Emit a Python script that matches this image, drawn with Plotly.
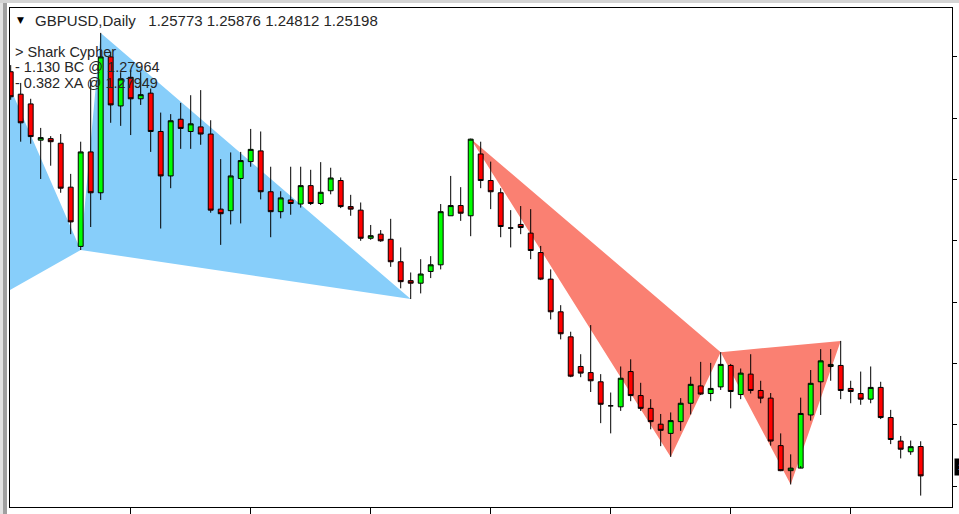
import plotly.graph_objects as go

# ---------------- data ----------------
opens = [1.3311, 1.3267, 1.3248, 1.3177, 1.3180, 1.3171, 1.3085, 1.2969, 1.3154, 1.3074,
         1.3340, 1.3244, 1.3300, 1.3258, 1.3269, 1.3194, 1.3107, 1.3218, 1.3194, 1.3203,
         1.3189, 1.3042, 1.3039, 1.3102, 1.3135, 1.3156, 1.3076, 1.3037, 1.3060, 1.3052,
         1.3088, 1.3053, 1.3078, 1.3098, 1.3047, 1.3040, 1.2985, 1.2993, 1.2983, 1.2939,
         1.2902, 1.2897, 1.2920, 1.2933, 1.3029, 1.3049, 1.3029, 1.3150, 1.3098, 1.3074,
         1.3005, 1.3012, 1.2995, 1.2957, 1.2905, 1.2841, 1.2792, 1.2734, 1.2722, 1.2704,
         1.2657, 1.2655, 1.2724, 1.2677, 1.2652, 1.2621, 1.2603, 1.2626, 1.2662, 1.2696,
         1.2681, 1.2694, 1.2736, 1.2679, 1.2719, 1.2687, 1.2672, 1.2579, 1.2530, 1.2535,
         1.2639, 1.2704, 1.2734, 1.2736, 1.2691, 1.2681, 1.2670, 1.2693, 1.2634, 1.2588,
         1.2567, 1.25773]
highs = [1.3324, 1.3289, 1.3258, 1.3201, 1.3185, 1.3189, 1.3111, 1.3174, 1.3295, 1.3387,
         1.3350, 1.3310, 1.3314, 1.3310, 1.3278, 1.3231, 1.3228, 1.3250, 1.3265, 1.3275,
         1.3216, 1.3140, 1.3153, 1.3154, 1.3199, 1.3194, 1.3125, 1.3077, 1.3125, 1.3125,
         1.3119, 1.3134, 1.3123, 1.3104, 1.3070, 1.3055, 1.3011, 1.3001, 1.3023, 1.2967,
         1.2918, 1.2944, 1.2950, 1.3052, 1.3107, 1.3085, 1.3180, 1.3174, 1.3135, 1.3083,
         1.3040, 1.3048, 1.3042, 1.2970, 1.2924, 1.2854, 1.2802, 1.2758, 1.2815, 1.2719,
         1.2683, 1.2734, 1.2748, 1.2702, 1.2670, 1.2641, 1.2644, 1.2672, 1.2714, 1.2743,
         1.2741, 1.2762, 1.2739, 1.2730, 1.2758, 1.2706, 1.2682, 1.2603, 1.2562, 1.2673,
         1.2727, 1.2768, 1.2768, 1.2784, 1.2706, 1.2724, 1.2734, 1.2704, 1.2649, 1.2598,
         1.2589, 1.25876]
lows = [1.3256, 1.3174, 1.3170, 1.3101, 1.3127, 1.3074, 1.2993, 1.2962, 1.3007, 1.3060,
        1.3211, 1.3205, 1.3187, 1.3246, 1.3154, 1.3004, 1.3083, 1.3160, 1.3160, 1.3168,
        1.3035, 1.2972, 1.3012, 1.3014, 1.3125, 1.3061, 1.2987, 1.3024, 1.3031, 1.3045,
        1.3050, 1.3050, 1.3071, 1.3044, 1.3029, 1.2980, 1.2982, 1.2978, 1.2929, 1.2887,
        1.2866, 1.2877, 1.2907, 1.2924, 1.3029, 1.3019, 1.2989, 1.3083, 1.3042, 1.2987,
        1.2967, 1.2993, 1.2944, 1.2903, 1.2826, 1.2787, 1.2713, 1.2713, 1.2684, 1.2623,
        1.2603, 1.2647, 1.2666, 1.2647, 1.2611, 1.2578, 1.2557, 1.2608, 1.2640, 1.2678,
        1.2666, 1.2688, 1.2652, 1.2670, 1.2681, 1.2662, 1.2579, 1.2529, 1.2503, 1.2539,
        1.2628, 1.2639, 1.2706, 1.2670, 1.2662, 1.2659, 1.2662, 1.2631, 1.2582, 1.2554,
        1.2561, 1.24812]
closes = [1.3262, 1.3211, 1.3184, 1.3182, 1.3174, 1.3083, 1.3017, 1.3154, 1.3074, 1.3340,
          1.3246, 1.3297, 1.3258, 1.3266, 1.3194, 1.3107, 1.3215, 1.3200, 1.3209, 1.3189,
          1.3040, 1.3033, 1.3107, 1.3137, 1.3159, 1.3076, 1.3037, 1.3064, 1.3053, 1.3088,
          1.3053, 1.3075, 1.3103, 1.3047, 1.3042, 1.2985, 1.2990, 1.2980, 1.2939, 1.2900,
          1.2897, 1.2915, 1.2933, 1.3037, 1.3049, 1.3034, 1.3179, 1.3098, 1.3076, 1.3008,
          1.3005, 1.3006, 1.2961, 1.2905, 1.2841, 1.2798, 1.2715, 1.2721, 1.2706, 1.2660,
          1.2657, 1.2711, 1.2677, 1.2652, 1.2626, 1.2609, 1.2628, 1.2662, 1.2699, 1.2680,
          1.2691, 1.2738, 1.2685, 1.2721, 1.2687, 1.2672, 1.2588, 1.2530, 1.2535, 1.2642,
          1.2701, 1.2745, 1.2738, 1.2687, 1.2685, 1.2670, 1.2693, 1.2634, 1.2591, 1.2572,
          1.2577, 1.25198]
bars = list(range(len(opens)))

# harmonic pattern points X, A, B, C, D (bar index, price)
blue_bars = [-3, -1, 7, 9, 40]
blue_prices = [1.2851, 1.3322, 1.2962, 1.3387, 1.2866]
red_bars = [46, 66, 71, 78, 83]
red_prices = [1.3180, 1.2557, 1.2762, 1.2503, 1.2784]

header_symbol = "GBPUSD,Daily"
header_ohlc = ["1.25773", "1.25876", "1.24812", "1.25198"]
pattern_lines = ["> Shark Cypher", "- 1.130 BC @ 1.27964", "- 0.382 XA @ 1.27949"]
x_tick_bars = [12, 24, 36, 48, 60, 72, 84]
y_tick0, y_dtick = 1.25, 0.012

# ---------------- layout geometry ----------------
W, H = 959, 514
L_, R_, T_, B_ = 10, 7, 8, 7
PW, PH = W - L_ - R_, H - T_ - B_


def px_x(p):
    return (p - L_) / PW


def px_y(p):
    return (H - B_ - p) / PH


def tri_path(bx, py):
    a = [(bx[i], py[i]) for i in range(5)]
    t1 = "M{},{} L{},{} L{},{} Z".format(*a[0], *a[1], *a[2])
    t2 = "M{},{} L{},{} L{},{} Z".format(*a[2], *a[3], *a[4])
    return t1 + " " + t2


fig = go.Figure()
fig.add_trace(go.Candlestick(
    x=bars, open=opens, high=highs, low=lows, close=closes,
    increasing=dict(fillcolor="#00FF00", line=dict(color="#000000", width=1)),
    decreasing=dict(fillcolor="#FF0000", line=dict(color="#000000", width=1)),
    whiskerwidth=0, showlegend=False, hoverinfo="skip"))

font_main = dict(family="Liberation Sans, Arial, sans-serif", size=15, color="#262626")
font_pat = dict(family="Liberation Sans, Arial, sans-serif", size=14.5, color="#262626")
annotations = [
    dict(x=px_x(15), y=px_y(20.5), xref="paper", yref="paper", text="▼", showarrow=False,
         xanchor="left", yanchor="middle", font=dict(family="DejaVu Sans", size=9, color="#000000")),
    dict(x=px_x(33), y=px_y(20.5), xref="paper", yref="paper",
         text=header_symbol + "&nbsp;&nbsp;&nbsp;" + " ".join(header_ohlc),
         showarrow=False, xanchor="left", yanchor="middle", font=font_main),
]
for i, line in enumerate(pattern_lines):
    annotations.append(dict(x=px_x(14), y=px_y(52 + 15.3 * i), xref="paper", yref="paper",
                            text=line, showarrow=False, xanchor="left", yanchor="middle",
                            font=font_pat, borderpad=0))
annotations.append(dict(x=1, y=closes[-1], xref="paper", yref="y", text=header_ohlc[3],
                        showarrow=False, xanchor="left", yanchor="bottom", xshift=2,
                        bgcolor="#000000", font=dict(family="Liberation Sans", size=9, color="#ffffff"),
                        borderpad=3))

shapes = [
    dict(type="path", xref="x", yref="y", path=tri_path(blue_bars, blue_prices),
         fillcolor="#87CEFA", line=dict(width=0), layer="below"),
    dict(type="path", xref="x", yref="y", path=tri_path(red_bars, red_prices),
         fillcolor="#FA8072", line=dict(width=0), layer="below"),
    dict(type="rect", xref="paper", yref="paper", x0=px_x(0), x1=px_x(3), y0=px_y(H), y1=px_y(0),
         fillcolor="#e3e3e3", line=dict(width=0), layer="below"),
    dict(type="rect", xref="paper", yref="paper", x0=px_x(3), x1=px_x(7), y0=px_y(H), y1=px_y(0),
         fillcolor="#a0a0a0", line=dict(width=0), layer="below"),
    dict(type="rect", xref="paper", yref="paper", x0=px_x(0), x1=px_x(W), y0=px_y(3), y1=px_y(0),
         fillcolor="#d4d4d4", line=dict(width=0), layer="below"),
]

fig.update_layout(
    width=W, height=H, margin=dict(l=L_, r=R_, t=T_, b=B_, autoexpand=False),
    paper_bgcolor="#ffffff", plot_bgcolor="#ffffff",
    showlegend=False, boxgap=0.3,
    annotations=annotations, shapes=shapes,
    xaxis=dict(range=[-0.07, 94.13], showgrid=False, zeroline=False, showline=True,
               linecolor="#000000", linewidth=1, mirror=True, ticks="outside",
               tickvals=x_tick_bars, ticklen=6, tickcolor="#000000", showticklabels=False,
               rangeslider=dict(visible=False), fixedrange=True, automargin=False),
    yaxis=dict(range=[1.245889, 1.343573], side="right", showgrid=False, zeroline=False,
               showline=True, linecolor="#000000", linewidth=1, mirror=True,
               ticks="outside", tick0=y_tick0, dtick=y_dtick, ticklen=4, tickcolor="#000000",
               showticklabels=False, fixedrange=True, automargin=False),
)

fig.write_html("out.html", config={"displayModeBar": False},
               post_script="document.body.style.margin='0';document.body.style.overflow='hidden';")
